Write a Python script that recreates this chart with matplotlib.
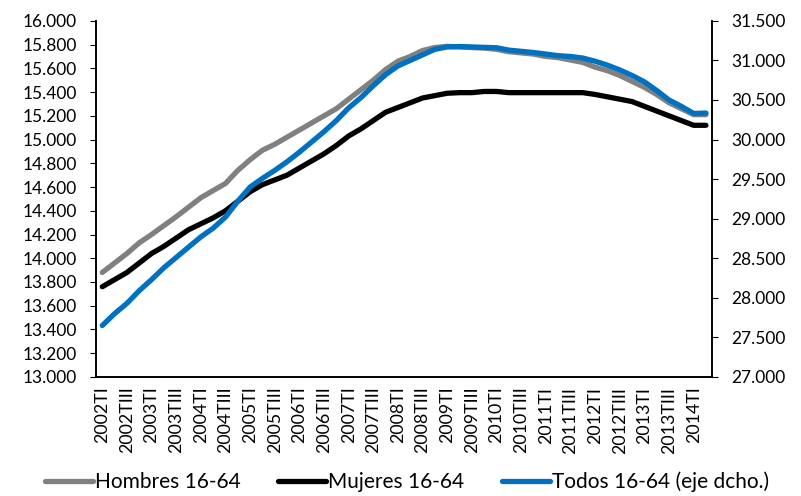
import matplotlib
matplotlib.use("Agg")
import matplotlib.pyplot as plt
import numpy as np

plt.rcParams['font.family'] = ['Lato', 'DejaVu Sans']

# trimestres 2002TI .. 2014TII
years = list(range(2002, 2015))
roman = ['I', 'II', 'III', 'IV']
quarters = [f"{y}T{r}" for y in years for r in roman][:50]

# miles de personas
hombres = [13880, 13960, 14040, 14130, 14200, 14275, 14350, 14430, 14510, 14570,
           14630, 14740, 14830, 14910, 14960, 15020, 15080, 15140, 15200, 15260,
           15340, 15420, 15500, 15590, 15660, 15700, 15750, 15775, 15785, 15780,
           15775, 15770, 15760, 15740, 15730, 15720, 15700, 15690, 15670, 15650,
           15610, 15580, 15540, 15490, 15440, 15380, 15310, 15260, 15210, 15210]
mujeres = [13760, 13820, 13880, 13960, 14040, 14100, 14170, 14240, 14290, 14340,
           14400, 14480, 14560, 14620, 14660, 14700, 14760, 14820, 14880, 14950,
           15030, 15090, 15160, 15230, 15270, 15310, 15350, 15370, 15390, 15395,
           15395, 15405, 15405, 15395, 15395, 15395, 15395, 15395, 15395, 15395,
           15380, 15360, 15340, 15320, 15280, 15240, 15200, 15160, 15120, 15120]
todos = [27650, 27800, 27930, 28090, 28230, 28380, 28510, 28640, 28770, 28880,
         29020, 29220, 29400, 29510, 29610, 29720, 29840, 29970, 30100, 30240,
         30400, 30530, 30680, 30820, 30930, 31000, 31070, 31140, 31170, 31175,
         31170, 31165, 31160, 31130, 31115, 31100, 31080, 31060, 31050, 31030,
         30990, 30940, 30880, 30810, 30730, 30620, 30500, 30420, 30330, 30335]

left_ticks = np.arange(13000, 16001, 200)
right_ticks = np.arange(27000, 31501, 500)


def fmt(v):
    return f"{v:,.0f}".replace(",", ".")


fig = plt.figure(figsize=(8.01, 4.96), dpi=100)
ax = fig.add_axes([0.12, 0.24, 0.769, 0.718])
ax2 = ax.twinx()

x = np.arange(len(quarters))
lw = 3.8
l1, = ax.plot(x, hombres, color='#808080', lw=lw, solid_capstyle='round',
              solid_joinstyle='round', label='Hombres 16-64')
l2, = ax.plot(x, mujeres, color='#000000', lw=lw, solid_capstyle='round',
              solid_joinstyle='round', label='Mujeres 16-64')
l3, = ax2.plot(x, todos, color='#0070C0', lw=lw, solid_capstyle='round',
               solid_joinstyle='round', label='Todos 16-64 (eje dcho.)')

ax.set_xlim(-0.5, len(quarters) - 0.5)
ax.set_ylim(13000, 16000)
ax2.set_ylim(27000, 31500)

ax.set_yticks(left_ticks)
ax.set_yticklabels([fmt(v) for v in left_ticks], fontsize=12.5)
ax2.set_yticks(right_ticks)
ax2.set_yticklabels([fmt(v) for v in right_ticks], fontsize=12.5)

ax.set_xticks(x[::2])
ax.set_xticklabels(quarters[::2], rotation=90, fontsize=12.8)
ax.tick_params(axis='x', length=0, pad=7)
ax.tick_params(axis='y', direction='out', length=4, pad=10)
ax2.tick_params(axis='y', direction='out', length=4, pad=10)

for a in (ax, ax2):
    a.spines['top'].set_visible(False)
    for s in a.spines.values():
        s.set_linewidth(1.2)

fig.legend(handles=[l1, l2, l3], loc='lower center', ncol=3, frameon=False,
           fontsize=15, handlelength=2.3, handletextpad=0.1,
           columnspacing=1.8, bbox_to_anchor=(0.508, -0.03))

fig.savefig('out.png', dpi=100)
